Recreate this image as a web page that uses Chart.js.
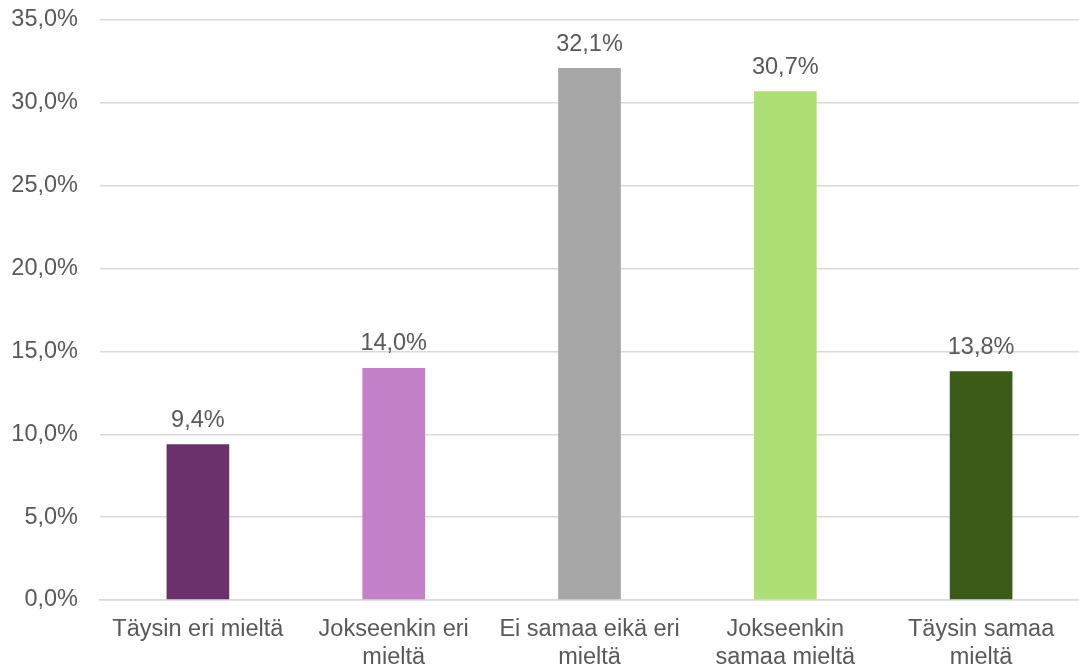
<!DOCTYPE html>
<html>
<head>
<meta charset="utf-8">
<script src="https://cdn.jsdelivr.net/npm/chart.js@4"></script>
<style>
  html, body { margin: 0; padding: 0; background: #fff; }
  #wrap { width: 1079px; height: 667px; }
</style>
</head>
<body>
<div id="wrap"><canvas id="myChart1" width="1079" height="667"></canvas></div>
<script>
const categories = [
    "Täysin eri mieltä",
    ["Jokseenkin eri", "mieltä"],
    ["Ei samaa eikä eri", "mieltä"],
    ["Jokseenkin", "samaa mieltä"],
    ["Täysin samaa", "mieltä"]
]
const values = [9.4, 14.0, 32.1, 30.7, 13.8]
const barColors = ["#6B316D", "#C280C7", "#A6A6A6", "#AEDF74", "#3B5C16"]
const yTicks = [0, 5, 10, 15, 20, 25, 30, 35]

const fmt = (v) => v.toFixed(1).replace(".", ",") + "%"
const textColor = "#595959"
const fontFamily = "'Liberation Sans', Arial, sans-serif"

// value labels above each bar
const barLabels = {
    id: 'barLabels',
    afterDatasetsDraw(chart) {
        const ctx = chart.ctx
        const meta = chart.getDatasetMeta(0)
        ctx.save()
        ctx.font = "23.5px " + fontFamily
        ctx.fillStyle = textColor
        ctx.textAlign = "center"
        ctx.textBaseline = "middle"
        meta.data.forEach((bar, i) => {
            ctx.fillText(fmt(values[i]), bar.x, bar.y - 24)
        })
        ctx.restore()
    }
}

var barc = document.getElementById('myChart1').getContext('2d');
var myChart1 = new Chart(barc, {
    type: 'bar',
    data: {
        labels: categories,
        datasets: [{
            data: values,
            backgroundColor: barColors,
            borderWidth: 0,
            barPercentage: 0.32,
            categoryPercentage: 1,
        }],
    },
    options: {
        responsive: false,
        animation: false,
        layout: { padding: 0 },
        plugins: {
            legend: { display: false },
            tooltip: { enabled: false },
        },
        scales: {
            x: {
                afterFit: (scale) => { scale.height = 67 },
                grid: { display: false, drawTicks: false },
                border: { display: true, color: "#D9D9D9", width: 1.5 },
                ticks: {
                    color: textColor,
                    padding: 15.5,
                    maxRotation: 0,
                    autoSkip: false,
                    font: { family: fontFamily, size: 23.5, lineHeight: 1.18 },
                },
            },
            y: {
                min: 0,
                max: 35,
                afterBuildTicks: (scale) => { scale.ticks = yTicks.map(v => ({ value: v })) },
                afterFit: (scale) => { scale.width = 100; scale.paddingTop = 20 },
                grid: { color: "#D9D9D9", lineWidth: 1.5, drawTicks: false },
                border: { display: false },
                ticks: {
                    color: textColor,
                    padding: 22,
                    callback: (v) => fmt(v),
                    font: { family: fontFamily, size: 23.5 },
                },
            },
        },
    },
    plugins: [barLabels],
});
</script>
</body>
</html>
